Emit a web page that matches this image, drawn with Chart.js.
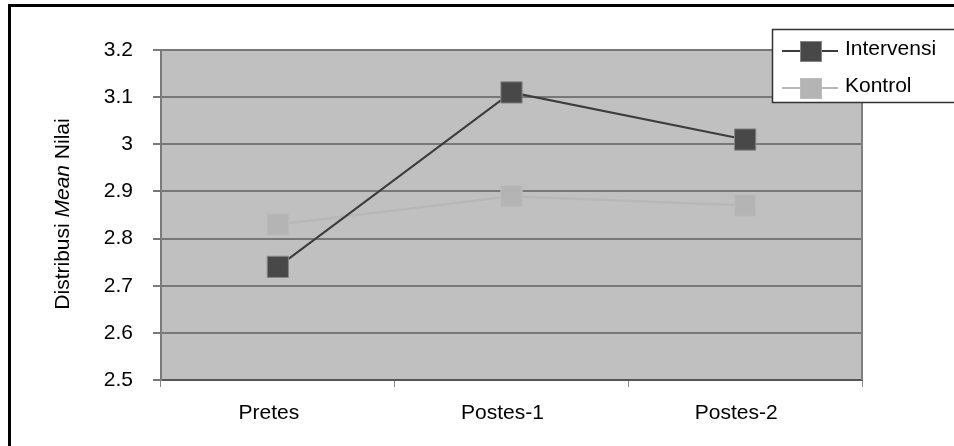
<!DOCTYPE html>
<html>
<head>
<meta charset="utf-8">
<script src="https://cdn.jsdelivr.net/npm/chart.js@4/dist/chart.umd.min.js"></script>
<style>
body{margin:0;background:#fff;overflow:hidden}
#wrap{position:relative;width:954px;height:446px;overflow:hidden}
#frame{position:absolute;left:8px;top:4px;width:1000px;height:500px;border:3px solid #000;pointer-events:none}
</style>
</head>
<body>
<div id="wrap"><canvas id="c" width="954" height="446"></canvas><div id="frame"></div></div>
<script>
const categories = ["Pretes", "Postes-1", "Postes-2"];
const intervensi = [2.74, 3.11, 3.01];
const kontrol = [2.83, 2.89, 2.87];
const yTicks = [2.5, 2.6, 2.7, 2.8, 2.9, 3, 3.1, 3.2];
const seriesNames = ["Intervensi", "Kontrol"];

const FONT = '"Liberation Sans", Arial, sans-serif';
const FS = 21;
Chart.defaults.font.family = FONT;
Chart.defaults.font.size = FS;
Chart.defaults.color = "#000";

// grey plot background + right edge line
const plotBg = {
    id: "plotBg",
    beforeDraw(chart) {
        const { ctx, chartArea: a } = chart;
        ctx.save();
        ctx.fillStyle = "#c0c0c0";
        ctx.fillRect(a.left, a.top, a.right - a.left, a.bottom - a.top);
        ctx.restore();
    },
    beforeDatasetsDraw(chart) {
        const { ctx, chartArea: a } = chart;
        ctx.save();
        ctx.strokeStyle = "#808080";
        ctx.lineWidth = 2;
        ctx.beginPath();
        ctx.moveTo(a.right, a.top);
        ctx.lineTo(a.right, a.bottom);
        ctx.stroke();
        ctx.restore();
    }
};

// y title with italic "Mean"
const yTitle = {
    id: "yTitle",
    afterDraw(chart) {
        const ctx = chart.ctx;
        const parts = [["Distribusi ", ""], ["Mean", "italic "], [" Nilai", ""]];
        ctx.save();
        ctx.translate(63.5, 214);
        ctx.rotate(-Math.PI / 2);
        ctx.textBaseline = "middle";
        ctx.textAlign = "left";
        ctx.fillStyle = "#000";
        let total = 0;
        parts.forEach(p => { ctx.font = p[1] + FS + "px " + FONT; total += ctx.measureText(p[0]).width; });
        let x = -total / 2;
        parts.forEach(p => {
            ctx.font = p[1] + FS + "px " + FONT;
            ctx.fillText(p[0], x, 0);
            x += ctx.measureText(p[0]).width;
        });
        ctx.restore();
    }
};

// boxed legend top right
const boxLegend = {
    id: "boxLegend",
    afterDraw(chart) {
        const ctx = chart.ctx;
        ctx.save();
        ctx.fillStyle = "#fff";
        ctx.strokeStyle = "#333";
        ctx.lineWidth = 1.5;
        ctx.fillRect(772, 29, 200, 74);
        ctx.strokeRect(772.5, 29.5, 200, 73);
        chart.data.datasets.forEach((ds, i) => {
            const y = 51 + i * 37;
            ctx.strokeStyle = ds.borderColor;
            ctx.lineWidth = 2;
            ctx.beginPath();
            ctx.moveTo(782, y);
            ctx.lineTo(838, y);
            ctx.stroke();
            ctx.fillStyle = ds.pointBackgroundColor;
            ctx.fillRect(800, y - 10, 22, 21);
            ctx.strokeStyle = ds.pointBorderColor;
            ctx.lineWidth = 1;
            ctx.strokeRect(800.5, y - 9.5, 21, 20);
            ctx.fillStyle = "#000";
            ctx.font = FS + "px " + FONT;
            ctx.textBaseline = "middle";
            ctx.fillText(ds.label, 845, y - 2);
        });
        ctx.restore();
    }
};

new Chart(document.getElementById("c"), {
    type: "line",
    data: {
        labels: categories,
        datasets: [{
            label: seriesNames[0],
            data: intervensi,
            borderColor: "#3c3c3c",
            borderWidth: 2,
            pointStyle: "rect",
            pointRadius: 15,
            pointBackgroundColor: "#484848",
            pointBorderColor: "#858585",
            pointBorderWidth: 1,
            tension: 0
        }, {
            label: seriesNames[1],
            data: kontrol,
            borderColor: "#b8b8b8",
            borderWidth: 2.5,
            pointStyle: "rect",
            pointRadius: 15,
            pointBackgroundColor: "#b4b4b4",
            pointBorderColor: "#bcbcbc",
            pointBorderWidth: 1,
            tension: 0
        }]
    },
    options: {
        responsive: false,
        animation: false,
        layout: { padding: { top: 50, right: 92, bottom: 0, left: 0 } },
        plugins: { legend: { display: false }, tooltip: { enabled: false } },
        scales: {
            x: {
                offset: true,
                afterFit: s => { s.height = 66; },
                grid: { offset: true, drawOnChartArea: false, tickLength: 7, color: "#888", lineWidth: 1 },
                border: { color: "#555", width: 2 },
                ticks: { padding: 14, labelOffset: -9 }
            },
            y: {
                min: 2.5,
                max: 3.2,
                afterFit: s => { s.width = 161; },
                afterBuildTicks: s => { s.ticks = yTicks.map(v => ({ value: v })); },
                grid: { color: "#787878", lineWidth: 2, tickLength: 8 },
                border: { color: "#7a7a7a", width: 2 },
                ticks: { padding: 20, callback: v => String(Math.round(v * 10) / 10) }
            }
        }
    },
    plugins: [plotBg, yTitle, boxLegend]
});
</script>
</body>
</html>
